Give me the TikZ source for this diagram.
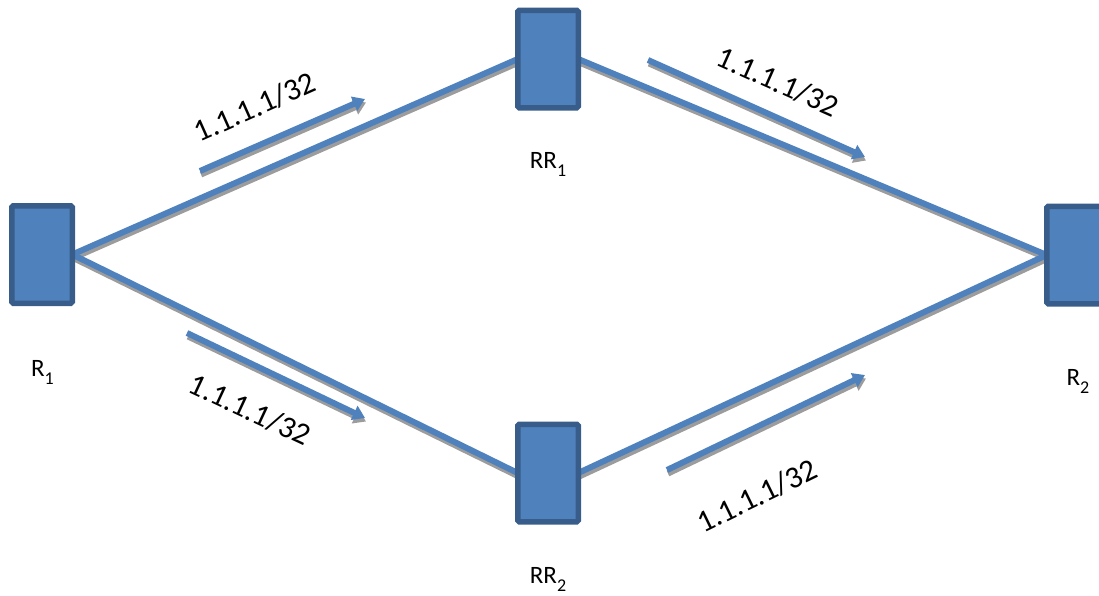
\documentclass[tikz,border=0pt]{standalone}
\usepackage{fontspec}
\setmainfont{Carlito}
\usetikzlibrary{arrows.meta,backgrounds}
\definecolor{boxfill}{HTML}{4F81BD}
\definecolor{boxline}{HTML}{385D8A}
\definecolor{linkblue}{HTML}{4F81BD}
\definecolor{shadowgray}{HTML}{9C9C9C}
\tikzset{
  router/.style={draw=boxline, fill=boxfill, line width=5.5pt, rounded corners=1.5pt,
    minimum width=60.5pt, minimum height=97.5pt, inner sep=0pt, outer sep=0pt},
  rlabel/.style={anchor=base, inner sep=0pt, font=\fontsize{25}{25}\selectfont},
  plabel/.style={inner sep=0pt, font=\fontsize{31}{31}\selectfont},
  link/.style={draw=linkblue, line width=6pt},
  linkshadow/.style={draw=shadowgray, line width=6pt, transform canvas={xshift=1pt, yshift=-3.5pt}},
  flow/.style={draw=linkblue, line width=6pt, -{Triangle[length=12pt,width=15pt]}},
  flowshadow/.style={draw=shadowgray, line width=6pt, -{Triangle[length=12pt,width=15pt]}, transform canvas={xshift=1pt, yshift=-3.5pt}},
}
\newcommand{\subx}[1]{\raisebox{-8pt}{\fontsize{18}{18}\selectfont #1}}
\begin{document}
\begin{tikzpicture}[x=1pt,y=-1pt]
\useasboundingbox (0,0) rectangle (1099,595);
\clip (0,0) rectangle (1099,595);
% routers
\node[router] (R1) at (42,254.5) {};
\node[router] (RR1) at (548,59) {};
\node[router] (RR2) at (548,473) {};
\node[router] (R2) at (1077,255) {};
% links
\begin{scope}[on background layer]
  \draw[linkshadow] (R1.east) -- (RR1.west);
  \draw[linkshadow] (RR1.east) -- (R2.west);
  \draw[linkshadow] (R1.east) -- (RR2.west);
  \draw[linkshadow] (RR2.east) -- (R2.west);
  \draw[link] (R1.east) -- (RR1.west);
  \draw[link] (RR1.east) -- (R2.west);
  \draw[link] (R1.east) -- (RR2.west);
  \draw[link] (RR2.east) -- (R2.west);
\end{scope}
% labels
\node[rlabel] (lR1) at (42.5,376) {R\subx{1}};
\node[rlabel] (lRR1) at (548,168) {RR\subx{1}};
\node[rlabel] (lRR2) at (548,583) {RR\subx{2}};
\node[rlabel] (lR2) at (1078,385) {R\subx{2}};
% route advertisement arrows
\coordinate (a1s) at (200,171); \coordinate (a1e) at (365,99);
\coordinate (a2s) at (648,60);  \coordinate (a2e) at (865,157);
\coordinate (a3s) at (187,333); \coordinate (a3e) at (365,418);
\coordinate (a4s) at (667,470); \coordinate (a4e) at (865,375);
\draw[flowshadow] (a1s) -- (a1e);
\draw[flowshadow] (a2s) -- (a2e);
\draw[flowshadow] (a3s) -- (a3e);
\draw[flowshadow] (a4s) -- (a4e);
\draw[flow] (a1s) -- (a1e);
\draw[flow] (a2s) -- (a2e);
\draw[flow] (a3s) -- (a3e);
\draw[flow] (a4s) -- (a4e);
% prefix labels
\node[plabel, rotate=24] (p1) at (255,107) {1.1.1.1/32};
\node[plabel, rotate=-24] (p2) at (778,82) {1.1.1.1/32};
\node[plabel, rotate=-25] (p3) at (250,410) {1.1.1.1/32};
\node[plabel, rotate=26] (p4) at (757,496) {1.1.1.1/32};
\end{tikzpicture}
\end{document}
